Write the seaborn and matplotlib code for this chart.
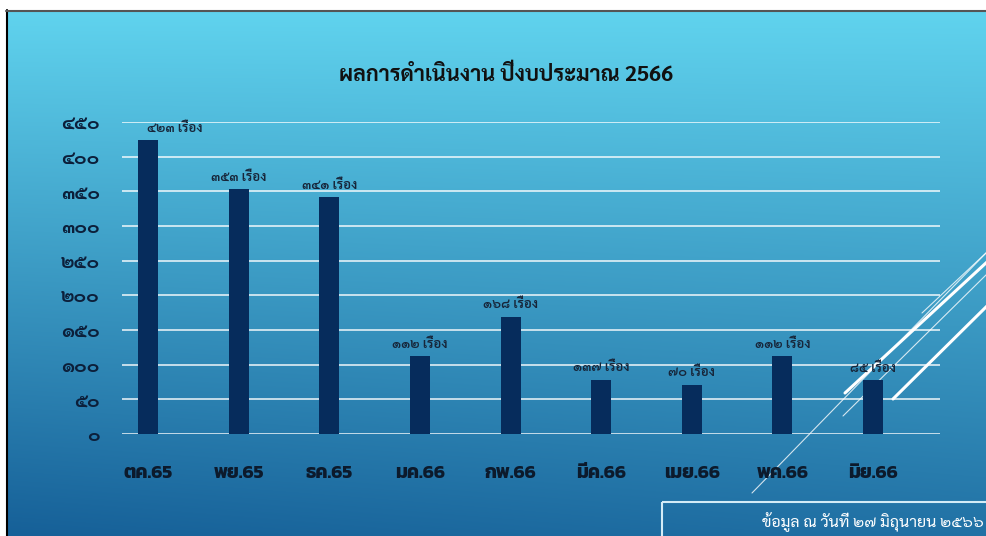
import numpy as np
import pandas as pd
import matplotlib
matplotlib.use("Agg")
import matplotlib.pyplot as plt
import seaborn as sns
from matplotlib import font_manager
from matplotlib.lines import Line2D
from matplotlib.patches import Rectangle

# =====================================================
# DATA
# =====================================================
months = ["ตค.65", "พย.65", "ธค.65", "มค.66", "กพ.66", "มีค.66", "เมย.66", "พค.66", "มิย.66"]
cases = [424, 353, 342, 112, 169, 78, 71, 112, 78]
case_labels = ["๔๒๓", "๓๕๓", "๓๔๑", "๑๑๒", "๑๖๘", "๑๓๗", "๗๐", "๑๑๒", "๘๕"]
ytick_values = [0, 50, 100, 150, 200, 250, 300, 350, 400, 450]
ytick_labels = ["๐", "๕๐", "๑๐๐", "๑๕๐", "๒๐๐", "๒๕๐", "๓๐๐", "๓๕๐", "๔๐๐", "๔๕๐"]

df = pd.DataFrame({"month": months, "cases": cases})

# =====================================================
# FONTS (pick installed Thai families)
# =====================================================
installed = {f.name for f in font_manager.fontManager.ttflist}


def pick(*names):
    for n in names:
        if n in installed:
            return n
    return "DejaVu Sans"


title_font = pick("Sarabun", "Noto Sans Thai", "Anuphan")
digit_font = pick("Sarabun", "Noto Sans Thai Looped", "Noto Sans Thai", "Anuphan")
month_font = pick("Kanit", "Prompt", "Anuphan")
label_font = pick("Sarabun", "Noto Sans Thai", "Anuphan")

sns.set_theme(style="white")
plt.rcParams["font.family"] = [title_font, "DejaVu Sans"]

W, H = 987, 536
fig = plt.figure(figsize=(W / 100, H / 100), dpi=100, facecolor="white")

# =====================================================
# SLIDE BACKGROUND
# =====================================================
bg = fig.add_axes([0, 0, 1, 1], zorder=-5)
bg.set_xlim(0, W)
bg.set_ylim(H, 0)
bg.axis("off")
top = np.array([96, 211, 238]) / 255
bot = np.array([22, 96, 152]) / 255
yy = np.linspace(0, 1, 200)[:, None]
xx = np.linspace(0, 1, 200)[None, :]
t = np.clip(0.85 * yy + 0.15 * (1 - xx) * yy, 0, 1)
grad = top[None, None, :] * (1 - t[..., None]) + bot[None, None, :] * t[..., None]
bg.imshow(grad, extent=(7, W, H, 11), aspect="auto", interpolation="bilinear")
bg.add_line(Line2D([6.5, 6.5], [10, H], color="black", lw=1.5))
bg.add_line(Line2D([6, W], [10.5, 10.5], color="#555555", lw=1.5))

# decorative diagonal lines (bottom right)
bg.add_line(Line2D([752, W], [493, 252], color="white", lw=0.8, alpha=0.8))
bg.add_line(Line2D([845, W], [393, 262], color="white", lw=2.2))
bg.add_line(Line2D([893, W], [399, 306], color="white", lw=2.2))
bg.add_line(Line2D([843, W], [416, 274], color="white", lw=0.8, alpha=0.8))
bg.add_line(Line2D([922, W], [313, 252], color="white", lw=0.8, alpha=0.8))

# bottom-right info box
bg.add_patch(Rectangle((661.5, 502), 340, 60, fill=False, edgecolor="#d4ecf7", lw=1.5))
bg.text(984, 522, "ข้อมูล ณ วันที่ ๒๗ มิถุนายน ๒๕๖๖", ha="right", va="center",
        fontsize=11.5, color="white", family=[label_font, "DejaVu Sans"])

# =====================================================
# BAR CHART
# =====================================================
ax = fig.add_axes([122 / W, 1 - 434 / H, (940 - 122) / W, (434 - 122) / H])
ax.set_facecolor("none")
sns.barplot(data=df, x="month", y="cases", color="#062c5c", saturation=1,
            width=0.22, linewidth=0, edgecolor="none", ax=ax, zorder=3)
ax.set_ylim(0, 450)
ax.set_xlim(-0.29, 8.74)
ax.set_yticks(ytick_values)
ax.set_yticklabels(ytick_labels, family=[digit_font, "DejaVu Sans"],
                   fontsize=13.5, fontweight="bold", color="#0c1f3a")
ax.set_xticks(range(len(months)))
ax.set_xticklabels(months, family=[month_font, "DejaVu Sans"],
                   fontsize=13.5, fontweight="bold", color="#0c1a2c")
ax.tick_params(axis="y", length=0, pad=16)
ax.tick_params(axis="x", length=0, pad=22)
ax.set_xlabel("")
ax.set_ylabel("")
for s in ax.spines.values():
    s.set_visible(False)
ax.yaxis.grid(True, color="white", lw=1.2, alpha=0.85, zorder=1)
ax.set_axisbelow(True)

for i, (v, lab) in enumerate(zip(cases, case_labels)):
    # first label sits to the right of its bar in the original slide
    dx = 19 if i == 0 else 0
    ax.annotate(lab + " เรื่อง", (i, v), xytext=(dx, 4), textcoords="offset points",
                ha="center", va="bottom", fontsize=9.5, fontweight="semibold",
                color="#17263a", family=[label_font, "DejaVu Sans"])

fig.text(506 / W, 1 - 75 / H, "ผลการดำเนินงาน ปีงบประมาณ 2566", ha="center", va="center",
         fontsize=15.5, fontweight="bold", color="#111111", family=[title_font, "DejaVu Sans"])

fig.savefig("out.png", dpi=100)
